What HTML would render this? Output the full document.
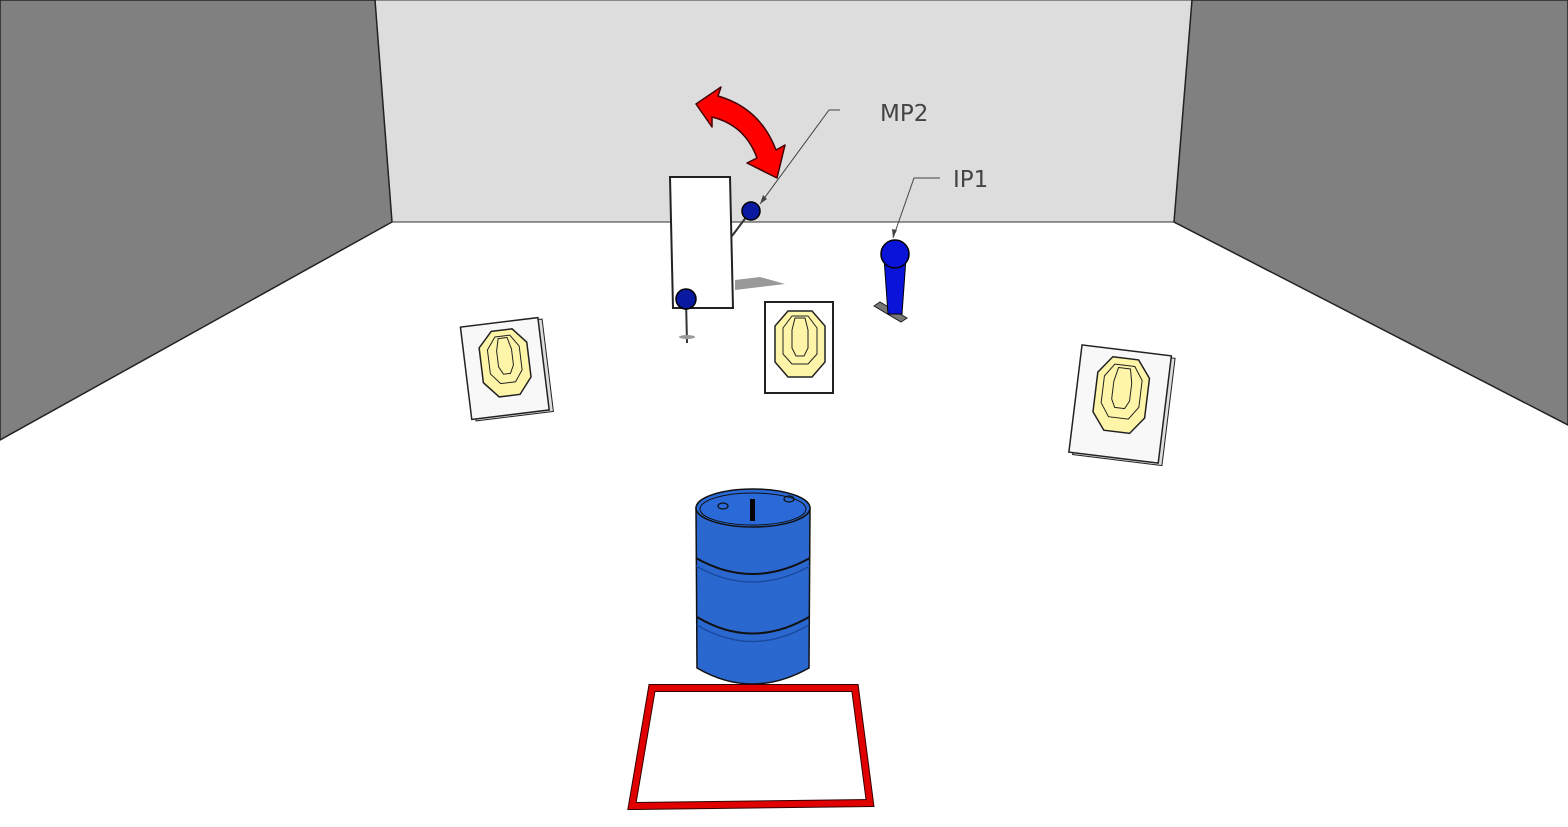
<!DOCTYPE html>
<html><head><meta charset="utf-8"><style>html,body{margin:0;padding:0;background:#fff}svg{display:block}</style></head>
<body>
<svg width="1568" height="827" viewBox="0 0 1568 827" xmlns="http://www.w3.org/2000/svg">
<rect width="1568" height="827" fill="#fff"/>
<polygon points="375,0 1192,0 1174,222 392,222" fill="#dddddd" stroke="#333" stroke-width="1"/>
<polygon points="0,0 375,0 392,222 0,440" fill="#808080" stroke="#222" stroke-width="1.5"/>
<polygon points="1192,0 1568,0 1568,425 1174,222" fill="#808080" stroke="#222" stroke-width="1.5"/>
<!-- shadow -->
<path d="M735,280 L760,277 L785,284 L760,287 L735,290 Z" fill="#999"/>
<!-- white panel -->
<polygon points="670,177 730,177 733,308 673,308" fill="#fff" stroke="#222" stroke-width="2"/>
<line x1="732" y1="236" x2="750" y2="212" stroke="#333" stroke-width="2"/>
<circle cx="751" cy="211" r="9" fill="#0a1aa0" stroke="#000" stroke-width="1.5"/>
<line x1="686" y1="300" x2="687" y2="343" stroke="#333" stroke-width="2"/>
<ellipse cx="687" cy="337" rx="8" ry="2" fill="#999"/>
<circle cx="686" cy="299" r="10" fill="#0a1aa0" stroke="#000" stroke-width="1.5"/>
<!-- red arrow -->
<path d="M696,104 L721,87 L718,96 Q760,108 776,150 L785,145 L777,178 L747,163 L757,158 Q745,125 712,117 L712,127 Z" fill="#f00" stroke="#400" stroke-width="1.5" stroke-linejoin="round"/>
<!-- leader lines -->
<polyline points="840,110 829,110 760,204" fill="none" stroke="#444" stroke-width="1"/>
<polygon points="760,204 763,195 767,199" fill="#444"/>
<text x="880" y="121" font-family="DejaVu Sans, sans-serif" font-size="23" fill="#444">MP2</text>
<polyline points="940,178 914,178 893,238" fill="none" stroke="#444" stroke-width="1"/>
<polygon points="893,238 892,229 897,230" fill="#444"/>
<text x="953" y="187" font-family="DejaVu Sans, sans-serif" font-size="23" fill="#444">IP1</text>
<!-- IP1 popper -->
<polygon points="874,306 880,302 907,318 901,322" fill="#777" stroke="#222"/>
<polygon points="884,258 906,258 902,314 888,314" fill="#0a14d8" stroke="#000" stroke-width="1"/>
<circle cx="895" cy="254" r="14" fill="#0a14d8" stroke="#000" stroke-width="1.5"/>
<!-- center target -->
<g>
<rect x="765" y="302" width="68" height="91" fill="#fff" stroke="#222" stroke-width="2"/>
<polygon points="788,311 812,311 825,326 825,362 812,377 788,377 775,362 775,326" fill="#fff5a8" stroke="#222" stroke-width="1.5"/>
<polygon points="792,316 808,316 817,328 817,354 808,364 792,364 783,354 783,328" fill="none" stroke="#222"/>
<path d="M795,318 L805,318 L808,330 L808,348 L804,356 L796,356 L792,348 L792,330 Z" fill="none" stroke="#222"/>
</g>
<!-- left target -->
<g transform="rotate(-7 505 370)">
<rect x="470" y="324" width="78" height="93" fill="#ddd" stroke="#222" stroke-width="1"/>
<rect x="466" y="322" width="78" height="93" fill="#f8f8f8" stroke="#222" stroke-width="1.5"/>
<polygon points="496,330 517,330 530,345 530,380 517,396 496,396 482,380 482,345" fill="#fff5a8" stroke="#222" stroke-width="1.5"/>
<polygon points="499,336 514,336 522,348 522,372 514,383 499,383 490,372 490,348" fill="none" stroke="#222"/>
<path d="M502,338 L511,338 L514,350 L514,366 L510,374 L503,374 L499,366 L499,350 Z" fill="none" stroke="#222"/>
</g>
<!-- right target -->
<g transform="rotate(7 1120 405)">
<rect x="1079" y="352" width="90" height="108" fill="#ddd" stroke="#222" stroke-width="1"/>
<rect x="1075" y="350" width="90" height="108" fill="#f8f8f8" stroke="#222" stroke-width="1.5"/>
<polygon points="1107,358 1133,358 1146,375 1146,415 1133,432 1107,432 1094,415 1094,375" fill="#fff5a8" stroke="#222" stroke-width="1.5"/>
<polygon points="1110,365 1130,365 1139,378 1139,405 1130,418 1110,418 1101,405 1101,378" fill="none" stroke="#222"/>
<path d="M1114,368 L1126,368 L1129,382 L1129,400 L1125,408 L1115,408 L1111,400 L1111,382 Z" fill="none" stroke="#222"/>
</g>
<!-- barrel -->
<path d="M696,508 L697,668 Q752,700 809,668 L810,508 Z" fill="#2a68d0" stroke="#111" stroke-width="1.5"/>
<path d="M696,558 Q752,590 810,558" fill="none" stroke="#111" stroke-width="2"/>
<path d="M696,566 Q752,598 810,566" fill="none" stroke="#1a4aa0" stroke-width="1.5"/>
<path d="M697,617 Q752,650 809,617" fill="none" stroke="#111" stroke-width="2"/>
<path d="M697,625 Q752,658 809,625" fill="none" stroke="#1a4aa0" stroke-width="1.5"/>
<ellipse cx="753" cy="508" rx="57" ry="19" fill="#2a6ad8" stroke="#111" stroke-width="1.5"/>
<ellipse cx="753" cy="509" rx="53" ry="16" fill="none" stroke="#111" stroke-width="1"/>
<ellipse cx="723" cy="506" rx="5" ry="3" fill="none" stroke="#111" stroke-width="1.3"/>
<ellipse cx="789" cy="499" rx="5" ry="3" fill="none" stroke="#111" stroke-width="1.3"/>
<rect x="750" y="499" width="5" height="22" fill="#000"/>
<!-- red frame -->
<polygon points="652,688 855,688 870,803 632,806" fill="#fff" stroke="#300" stroke-width="8" stroke-linejoin="miter"/>
<polygon points="652,688 855,688 870,803 632,806" fill="none" stroke="#e00000" stroke-width="6" stroke-linejoin="miter"/>
</svg>
</body></html>
